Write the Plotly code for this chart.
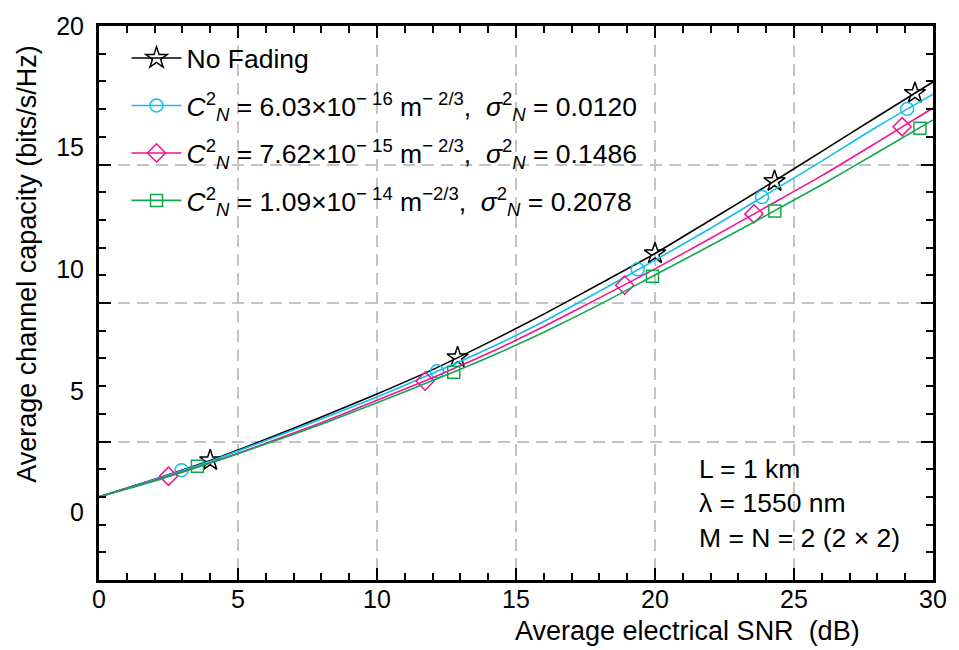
import plotly.graph_objects as go

# ---------------- data ----------------
snr_db = [0, 2, 4, 6, 8, 10, 12, 14, 16, 18, 20, 22, 24, 26, 28, 30]
cap_no_fading = [0.65, 1.38, 2.15, 3.02, 3.93, 4.88, 5.88, 6.99, 8.16, 9.40, 10.65, 12.03, 13.42, 14.85, 16.28, 17.70]
cap_cn1 = [0.65, 1.37, 2.12, 2.97, 3.85, 4.76, 5.73, 6.74, 7.86, 9.10, 10.38, 11.69, 13.07, 14.45, 15.87, 17.20]
cap_cn2 = [0.65, 1.32, 2.05, 2.85, 3.70, 4.62, 5.55, 6.55, 7.65, 8.83, 10.02, 11.28, 12.56, 13.85, 15.23, 16.63]
cap_cn3 = [0.65, 1.30, 2.04, 2.82, 3.64, 4.52, 5.43, 6.38, 7.42, 8.55, 9.77, 10.98, 12.22, 13.48, 14.80, 16.14]

mark_x_no_fading = [4.0, 12.9, 20.0, 24.3, 29.35]
mark_y_no_fading = [2.15, 6.38, 10.65, 13.62, 17.24]
mark_x_cn1 = [2.97, 12.16, 19.38, 23.85, 29.07]
mark_y_cn1 = [1.75, 5.81, 10.0, 12.97, 16.59]
mark_x_cn2 = [2.5, 11.73, 18.91, 23.56, 28.89]
mark_y_cn2 = [1.50, 5.41, 9.35, 12.28, 15.86]
mark_x_cn3 = [3.54, 12.76, 19.91, 24.31, 29.53]
mark_y_cn3 = [1.91, 5.77, 9.72, 12.40, 15.80]

series_names = [
    "No Fading",
    "<i>C</i><sup>2</sup><sub><i>N</i></sub> = 6.03×10<sup>− 16</sup> m<sup>− 2/3</sup>,  <i>σ</i><sup>2</sup><sub><i>N</i></sub> = 0.0120",
    "<i>C</i><sup>2</sup><sub><i>N</i></sub> = 7.62×10<sup>− 15</sup> m<sup>− 2/3</sup>,  <i>σ</i><sup>2</sup><sub><i>N</i></sub> = 0.1486",
    "<i>C</i><sup>2</sup><sub><i>N</i></sub> = 1.09×10<sup>− 14</sup> m<sup>−2/3</sup>,  <i>σ</i><sup>2</sup><sub><i>N</i></sub> = 0.2078",
]
x_ticks = [0, 5, 10, 15, 20, 25, 30]
y_ticks = [0, 5, 10, 15, 20]
info_lines = ["L = 1 km", "λ = 1550 nm", "M = N = 2 (2 × 2)"]

# ---------------- styling ----------------
FONT = "Liberation Sans, Arial, Helvetica, sans-serif"
colors = ["#000000", "#12BDF2", "#F0168E", "#10A84E"]
symbols = ["star-open", "circle-open", "diamond-open", "square-open"]
sizes = [16, 13, 14, 12]

curves = [cap_no_fading, cap_cn1, cap_cn2, cap_cn3]
marks = [(mark_x_no_fading, mark_y_no_fading), (mark_x_cn1, mark_y_cn1),
         (mark_x_cn2, mark_y_cn2), (mark_x_cn3, mark_y_cn3)]

fig = go.Figure()

# dummy trace on the base axis so the grid subplot is always drawn
fig.add_trace(go.Scatter(x=[None], y=[None], xaxis="x", yaxis="y",
                         showlegend=False, hoverinfo="skip"))

for i in range(4):
    fig.add_trace(go.Scatter(
        x=snr_db, y=curves[i], mode="lines", yaxis="y2",
        line=dict(color=colors[i], width=1.6, shape="spline", smoothing=0.6),
        showlegend=False, legendgroup=f"g{i}", hoverinfo="skip"))
    fig.add_trace(go.Scatter(
        x=marks[i][0], y=marks[i][1], mode="markers", yaxis="y2",
        marker=dict(symbol=symbols[i], size=sizes[i], color=colors[i],
                    line=dict(color=colors[i], width=1.5)),
        showlegend=False, legendgroup=f"g{i}", hoverinfo="skip"))
    fig.add_trace(go.Scatter(
        x=[None], y=[None], mode="lines+markers", yaxis="y2", name=series_names[i],
        line=dict(color=colors[i], width=1.6),
        marker=dict(symbol=symbols[i], size=sizes[i], color=colors[i],
                    line=dict(color=colors[i], width=1.5)),
        legendgroup=f"g{i}"))

axis_common = dict(
    showline=True, linecolor="black", linewidth=3, mirror="ticks",
    ticks="inside", ticklen=12, tickwidth=2, tickcolor="black",
    zeroline=False,
    showgrid=True, gridcolor="#C4C4C4", gridwidth=2, griddash="12px,7px",
    minor=dict(dtick=1, ticks="inside", ticklen=7, tickwidth=2,
               tickcolor="black", showgrid=False),
)

fig.update_layout(
    width=959, height=650,
    margin=dict(l=99, r=21, t=20, b=70),
    paper_bgcolor="white", plot_bgcolor="white",
    font=dict(family=FONT, size=25, color="black"),
    xaxis=dict(range=[0, 30], tickvals=x_ticks, ticktext=[str(v) for v in x_ticks],
               tickfont=dict(size=25), ticklabelstandoff=-5, **axis_common),
    yaxis=dict(range=[0, 20], dtick=5, showticklabels=False, **axis_common),
    yaxis2=dict(range=[-2.764, 20], overlaying="y", side="left", anchor="x",
                tickvals=y_ticks, ticktext=[str(v) for v in y_ticks],
                showgrid=False, zeroline=False, showline=False, ticks="",
                ticklabelstandoff=14, tickfont=dict(size=25)),
    legend=dict(x=0.033, y=0.985, xanchor="left", yanchor="top",
                bgcolor="rgba(0,0,0,0)", font=dict(size=26.5, family=FONT),
                traceorder="grouped", tracegroupgap=10, itemwidth=50),
    showlegend=True,
)

fig.add_annotation(text="Average electrical SNR\u00a0\u00a0(dB)", xref="paper", yref="paper",
                   x=(691 - 99) / 839, y=(580 - 632) / 560, xanchor="center", yanchor="middle",
                   showarrow=False, font=dict(size=27))
fig.add_annotation(text="Average channel capacity (bits/s/Hz)", xref="paper", yref="paper",
                   x=(27 - 99) / 839, y=(580 - 260) / 560, xanchor="center", yanchor="middle",
                   textangle=-90, showarrow=False, font=dict(size=27))
fig.add_annotation(text="<br>".join(info_lines), xref="paper", yref="paper",
                   x=(701 - 99) / 839, y=(580 - 451) / 560, xanchor="left", yanchor="top",
                   align="left", showarrow=False, font=dict(size=26.5))

fig.write_html("out.html")
